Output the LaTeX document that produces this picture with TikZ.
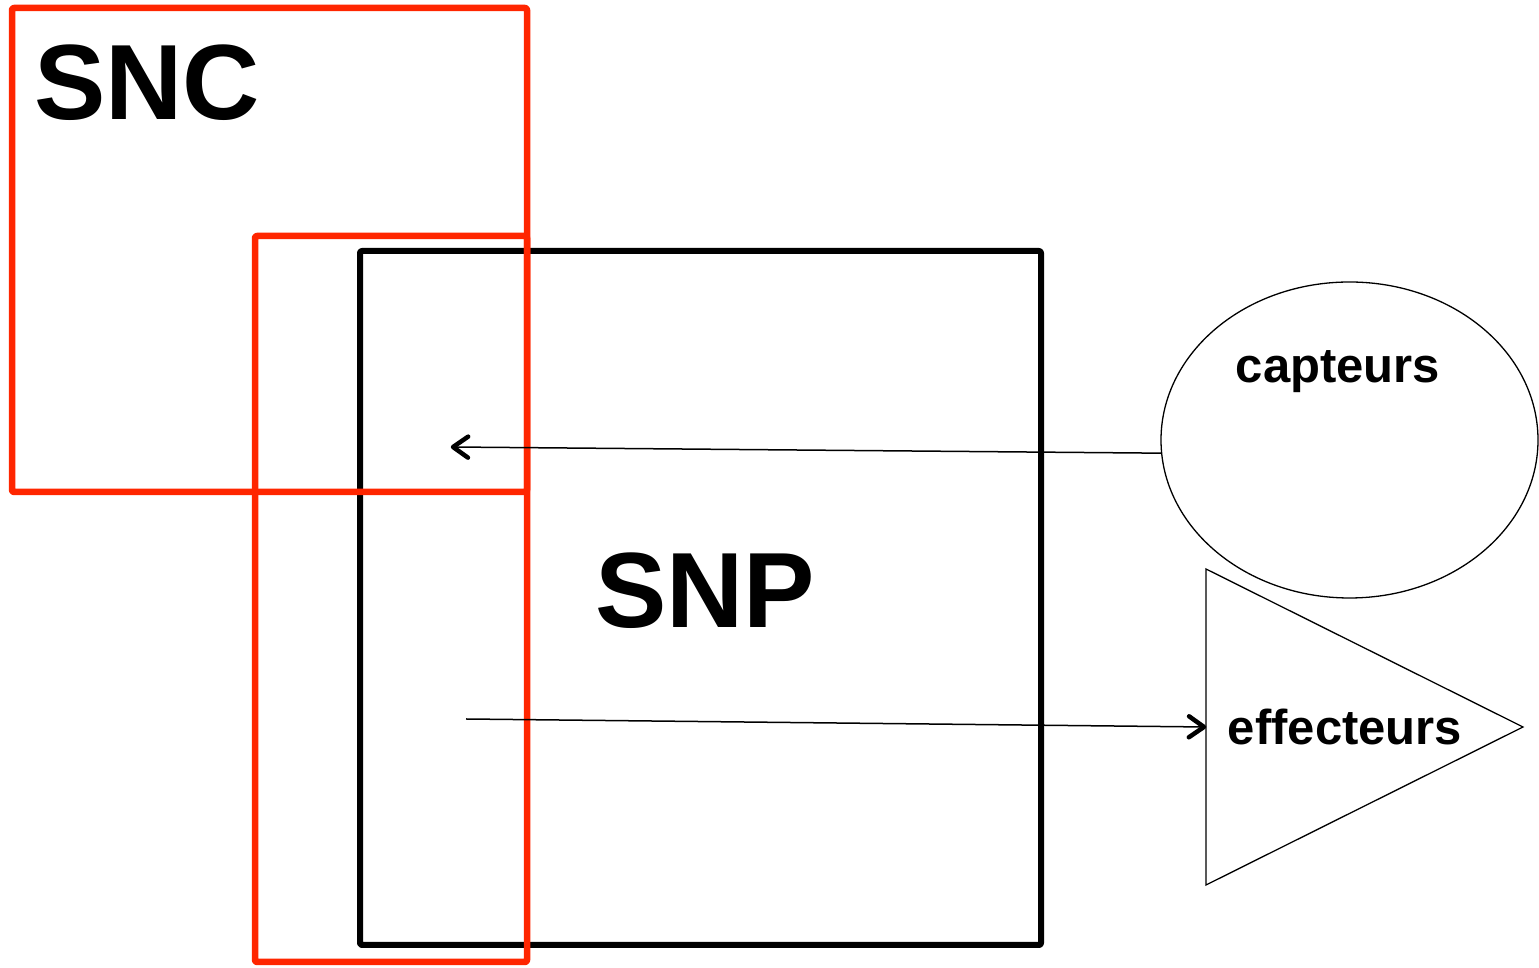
\documentclass[tikz,border=0pt]{standalone}
\usepackage{fontspec}
\setmainfont{Liberation Sans}
\usetikzlibrary{shapes.geometric,decorations.markings}
\definecolor{sysred}{HTML}{FF2600}
\begin{document}
\begin{tikzpicture}[x=1pt,y=1pt,
  redbox/.style={draw=sysred,line width=6.5pt,rounded corners=2pt,line join=round},
  blackbox/.style={draw=black,line width=6pt,rounded corners=2pt,line join=round},
  thin/.style={draw=black,line width=1.3pt},
  flow/.style={draw=black,line width=1.5pt,
    decoration={markings,mark=at position 1 with
      {\draw[line width=4.5pt,line cap=round,line join=round,solid]
        (-17pt,10.5pt) -- (-2pt,0pt) -- (-17pt,-10.5pt);}},
    postaction={decorate}},
  bigtitle/.style={font=\bfseries\fontsize{107}{110}\selectfont,inner sep=0pt,anchor=base},
  label/.style={font=\bfseries\fontsize{49}{52}\selectfont,inner sep=0pt,anchor=base}]
\useasboundingbox (0,0) rectangle (1539,968);
% peripheral system box
\draw[blackbox] (360,23) rectangle (1041,717);
% central system boxes
\draw[redbox] (12,960) rectangle (527,476);
\draw[redbox] (255,732) rectangle (527,6);
\node[bigtitle] (snc) at (147,848) {SNC};
\node[bigtitle] (snp) at (705,340) {SNP};
% sensors
\node[thin,ellipse,minimum width=377pt,minimum height=316pt,inner sep=0pt] (cap) at (1349.5,528) {};
\node[label] (captxt) at (1338,585) {capteurs};
% effectors
\draw[thin,line join=miter] (1206,399) -- (1523,241) -- (1206,83) -- cycle;
\coordinate (effin) at (1206,241);
\node[label] (efftxt) at (1345,223) {effecteurs};
% signal paths
\coordinate (snc-in) at (451,521);
\coordinate (snc-out) at (466,249);
\draw[flow] (cap.184.6) -- (snc-in);
\draw[flow] (snc-out) -- (effin);
\end{tikzpicture}
\end{document}
